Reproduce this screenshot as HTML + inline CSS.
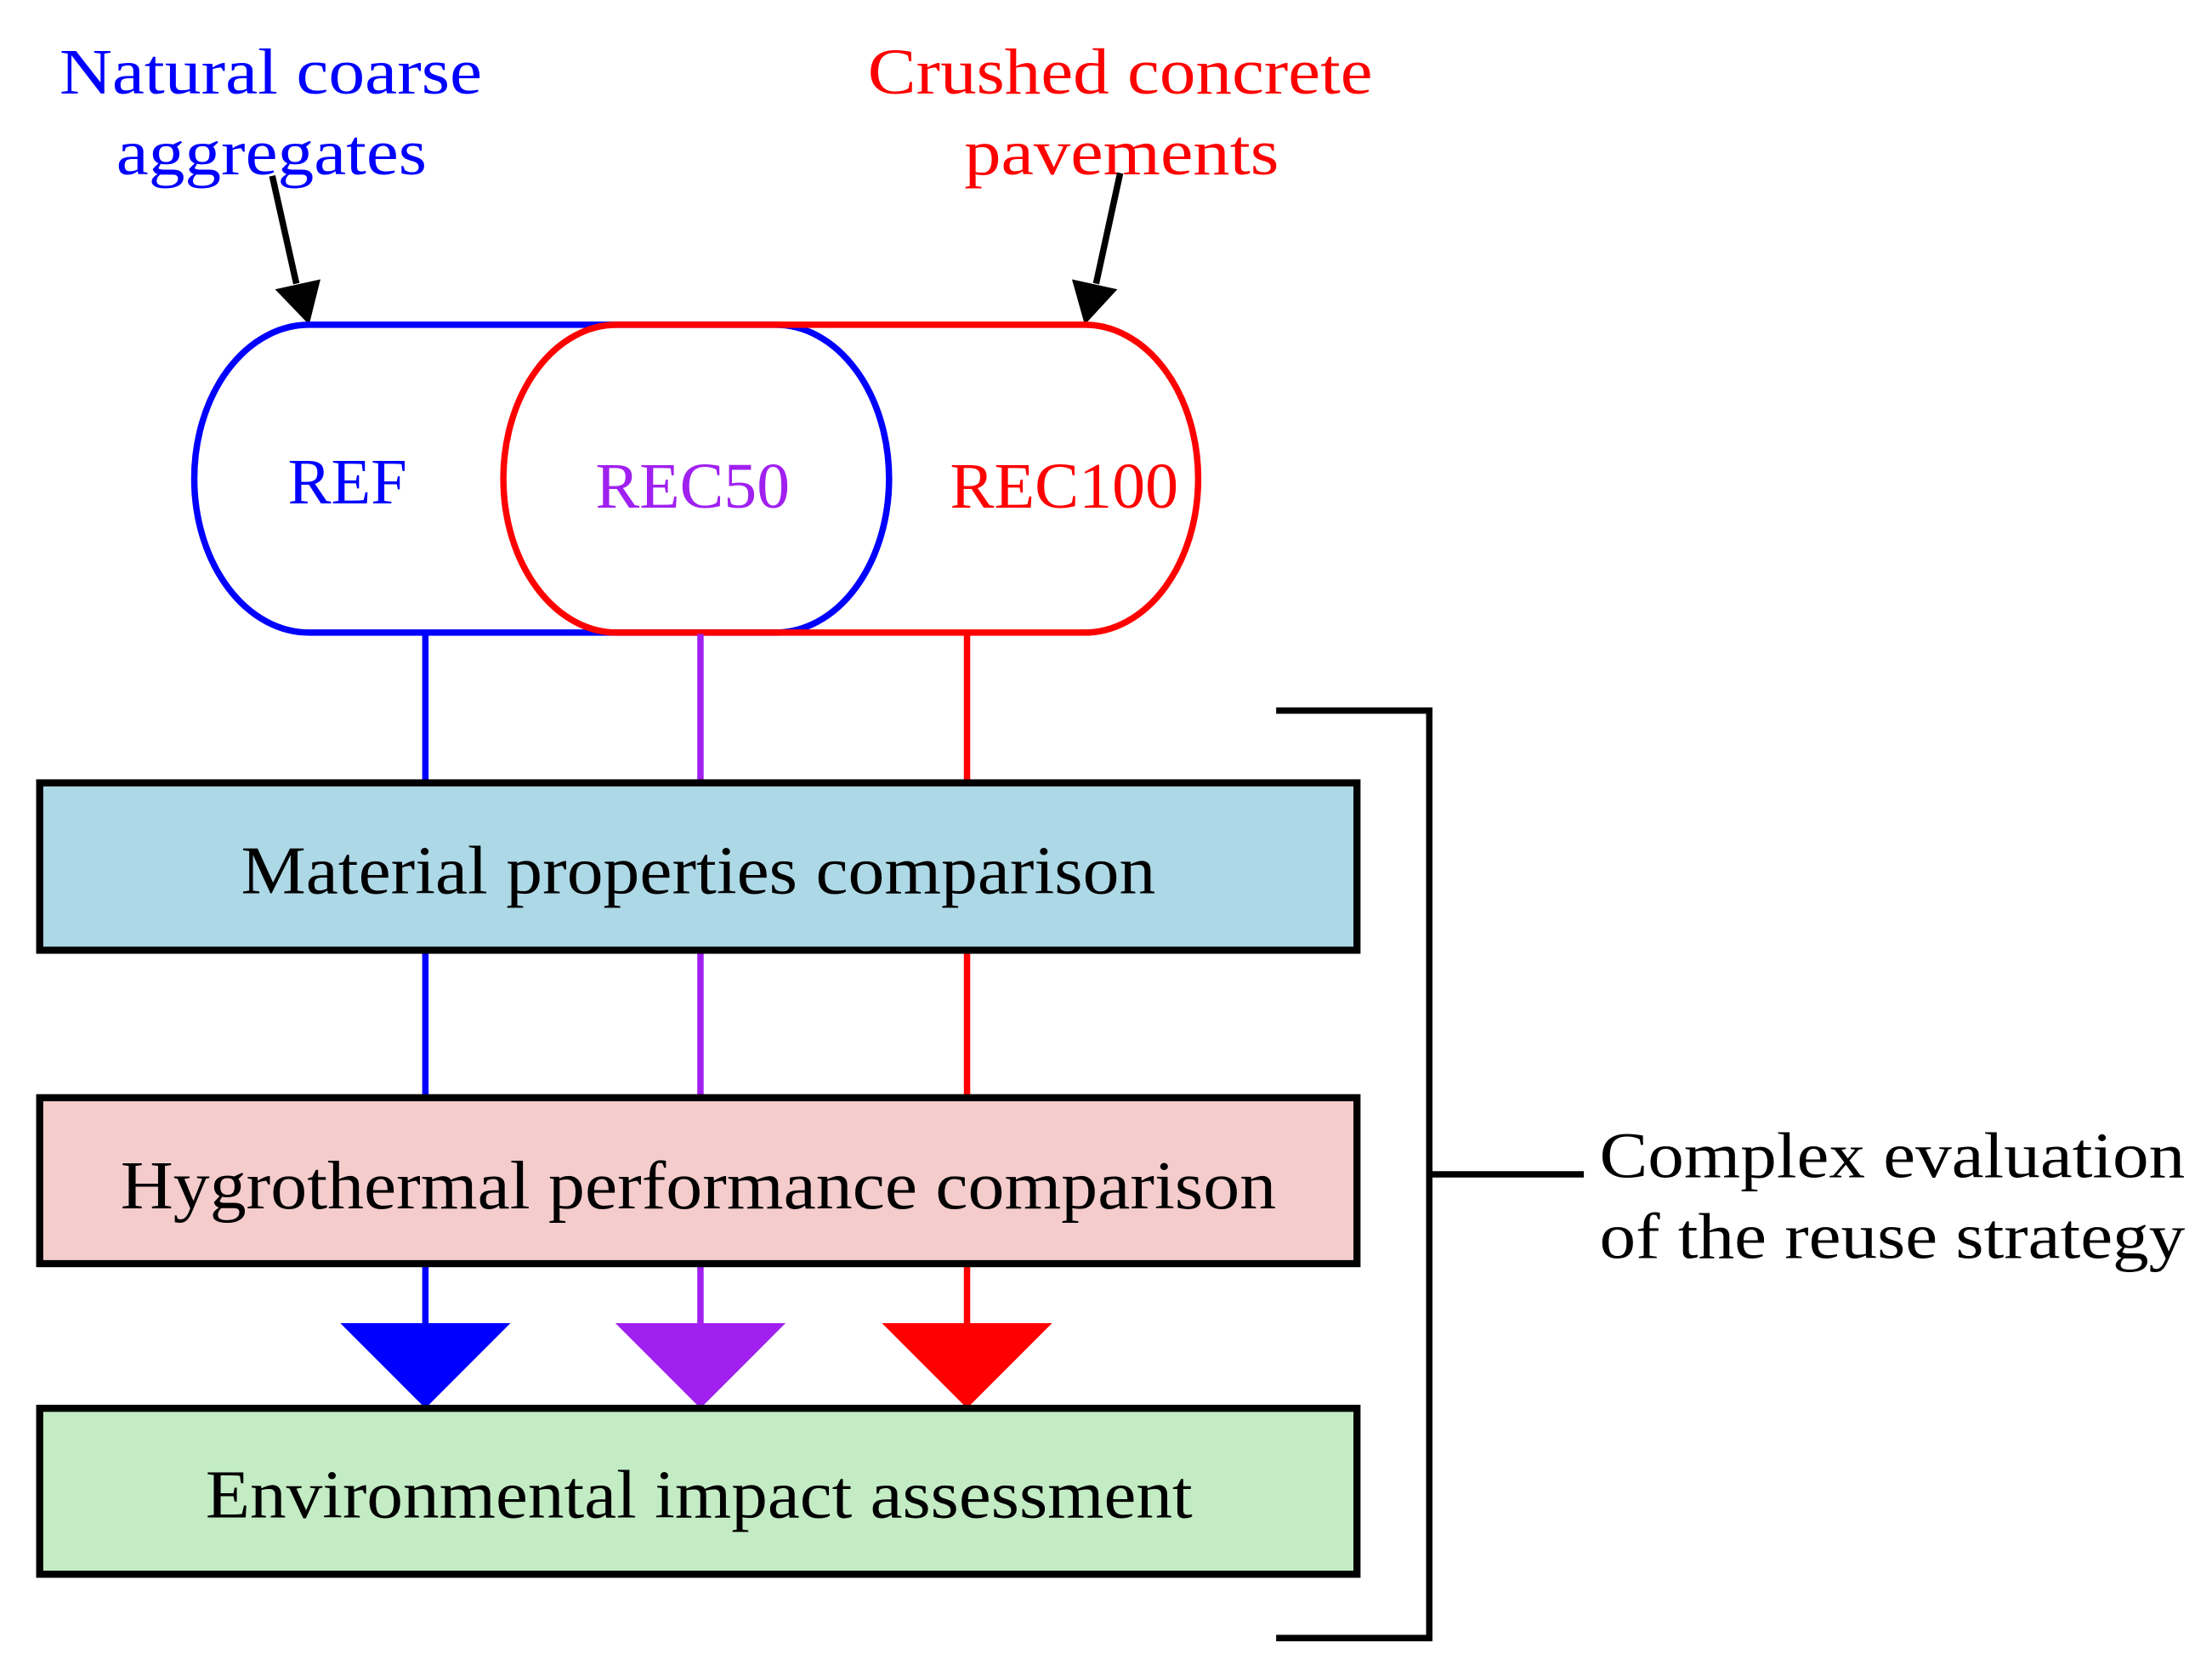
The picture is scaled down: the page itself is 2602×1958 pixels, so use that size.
<!DOCTYPE html>
<html><head><meta charset="utf-8"><style>
html,body{margin:0;padding:0;background:#fff;}
svg{display:block;}
text{font-family:"Liberation Serif",serif;}
</style></head><body>
<svg width="2602" height="1958" viewBox="0 0 1560 1174" preserveAspectRatio="none" xmlns="http://www.w3.org/2000/svg">
<g font-size="46" lengthAdjust="spacingAndGlyphs">
<text x="42" y="66" fill="#0000ff" textLength="298" lengthAdjust="spacingAndGlyphs">Natural coarse</text>
<text x="82" y="123" fill="#0000ff" textLength="219" lengthAdjust="spacingAndGlyphs">aggregates</text>
<text x="612" y="66" fill="#ff0000" textLength="356" lengthAdjust="spacingAndGlyphs">Crushed concrete</text>
<text x="680" y="123" fill="#ff0000" textLength="222" lengthAdjust="spacingAndGlyphs">pavements</text>
</g>
<!-- arrows -->
<line x1="192" y1="124" x2="209" y2="200" stroke="#000" stroke-width="4.5"/>
<polygon points="194,204 226,197 218,229" fill="#000"/>
<line x1="790" y1="122" x2="773" y2="200" stroke="#000" stroke-width="4.5"/>
<polygon points="756,197 788,204 765,229" fill="#000"/>
<!-- stadiums -->
<path d="M218,229 L547,229 A80,108.5 0 0 1 547,446 L218,446 A81,108.5 0 0 1 218,229 Z" fill="none" stroke="#0000ff" stroke-width="4.5"/>
<path d="M435,229 L765,229 A80,108.5 0 0 1 765,446 L435,446 A80,108.5 0 0 1 435,229 Z" fill="none" stroke="#ff0000" stroke-width="4.5"/>
<g font-size="46">
<text x="203" y="355" fill="#0000ff" textLength="84" lengthAdjust="spacingAndGlyphs">REF</text>
<text x="420" y="358" fill="#a020f0" textLength="137" lengthAdjust="spacingAndGlyphs">REC50</text>
<text x="670" y="358" fill="#ff0000" textLength="161" lengthAdjust="spacingAndGlyphs">REC100</text>
</g>
<!-- vertical lines -->
<g stroke-width="4.5">
<line x1="300" y1="447" x2="300" y2="552" stroke="#0000ff"/>
<line x1="494" y1="447" x2="494" y2="552" stroke="#a020f0"/>
<line x1="682" y1="447" x2="682" y2="552" stroke="#ff0000"/>
<line x1="300" y1="670" x2="300" y2="774" stroke="#0000ff"/>
<line x1="494" y1="670" x2="494" y2="774" stroke="#a020f0"/>
<line x1="682" y1="670" x2="682" y2="774" stroke="#ff0000"/>
<line x1="300" y1="891" x2="300" y2="935" stroke="#0000ff"/>
<line x1="494" y1="891" x2="494" y2="935" stroke="#a020f0"/>
<line x1="682" y1="891" x2="682" y2="935" stroke="#ff0000"/>
</g>
<polygon points="240,933 360,933 300,993" fill="#0000ff"/>
<polygon points="434,933 554,933 494,993" fill="#a020f0"/>
<polygon points="622,933 742,933 682,993" fill="#ff0000"/>
<!-- boxes -->
<rect x="28" y="552" width="929" height="118" fill="#add8e6" stroke="#000" stroke-width="5"/>
<rect x="28" y="774" width="929" height="117" fill="#f4cccc" stroke="#000" stroke-width="5"/>
<rect x="28" y="993" width="929" height="117" fill="#c3ecc4" stroke="#000" stroke-width="5"/>
<g font-size="48" fill="#000">
<text x="170" y="630" textLength="645" lengthAdjust="spacingAndGlyphs">Material properties comparison</text>
<text x="85" y="852" textLength="815" lengthAdjust="spacingAndGlyphs">Hygrothermal performance comparison</text>
<text x="145" y="1070" textLength="696" lengthAdjust="spacingAndGlyphs">Environmental impact assessment</text>
</g>
<!-- bracket -->
<path d="M900,501 H1008 V1155 H900" fill="none" stroke="#000" stroke-width="4.5"/>
<line x1="1008" y1="828" x2="1117" y2="828" stroke="#000" stroke-width="4.5"/>
<g font-size="46" fill="#000">
<text x="1128" y="830" textLength="413" lengthAdjust="spacingAndGlyphs">Complex evaluation</text>
<text x="1128" y="887" textLength="413" lengthAdjust="spacingAndGlyphs">of the reuse strategy</text>
</g>
</svg>
</body></html>
